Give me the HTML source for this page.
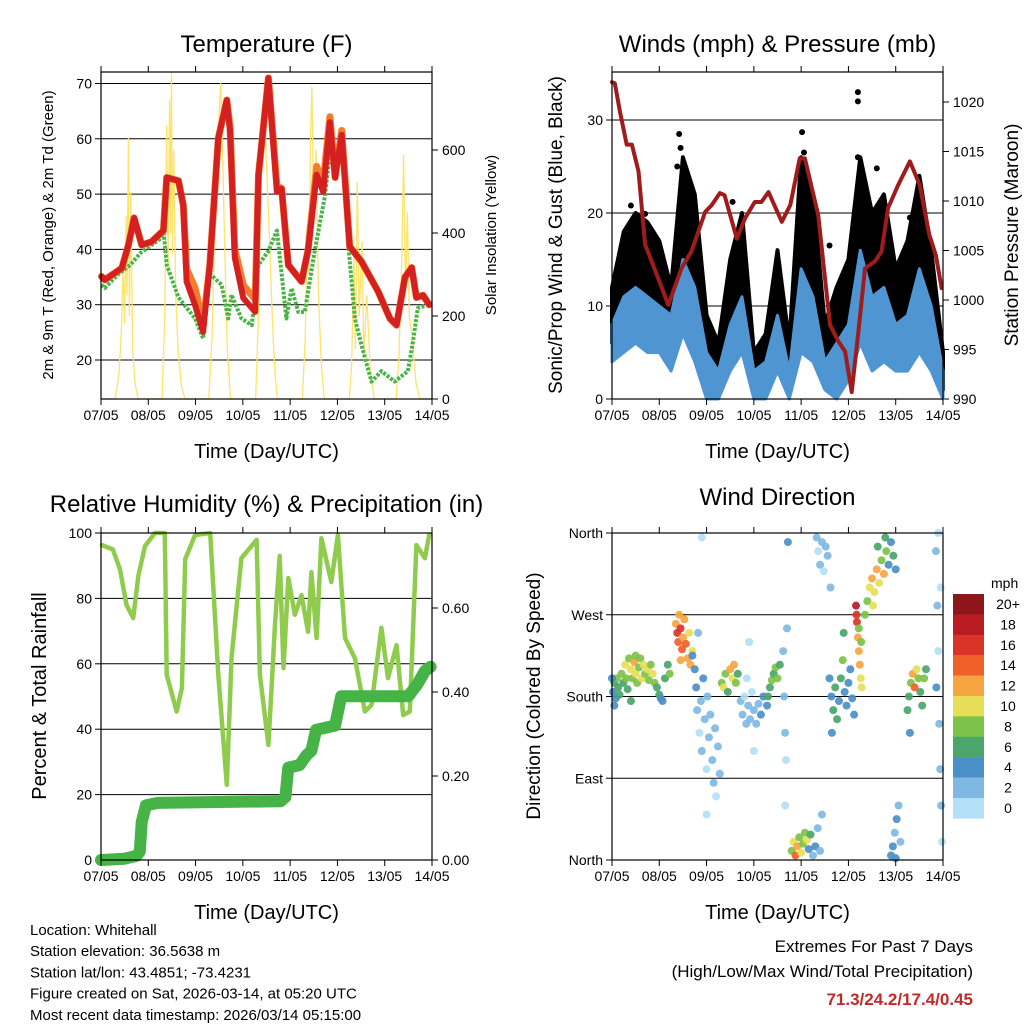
<!DOCTYPE html>
<html><head><meta charset="utf-8"><style>
html,body{margin:0;padding:0;background:#fff;}
svg{display:block;font-family:"Liberation Sans",Arial,sans-serif;}
</style></head><body>
<svg id="chart" xmlns="http://www.w3.org/2000/svg" width="1024" height="1024" viewBox="0 0 1024 1024">
<rect x="0" y="0" width="1024" height="1024" fill="#fff"/>
</svg>
<script>
// ---------- DATA ----------
const dayLabels = ["07/05","08/05","09/05","10/05","11/05","12/05","13/05","14/05"];
const tempTicks = [20,30,40,50,60,70];
const solarTicks = [0,200,400,600];
const windTicks = [0,10,20,30];
const presTicks = [990,995,1000,1005,1010,1015,1020];
const rhTicks = [0,20,40,60,80,100];
const rainTicks = ["0.00","0.20","0.40","0.60"];
const dirTickLabels = ["North","East","South","West","North"];
const speedBins = ["0","2","4","6","8","10","12","14","16","18","20+"];

const tDays = [0.01,0.08,0.44,0.58,0.70,0.86,1.07,1.32,1.39,1.64,1.74,1.81,1.99,2.16,2.30,2.48,2.66,2.73,2.83,3.01,3.26,3.33,3.54,3.72,3.82,3.96,4.24,4.38,4.56,4.70,4.84,4.95,5.09,5.26,5.51,5.86,6.11,6.25,6.43,6.57,6.67,6.81,6.94];
const tRed = [35.1,34.5,36.6,40.8,45.7,40.8,41.4,43.4,53,52.4,48,34.2,29.9,25.1,37.2,60.1,67,61.3,38.5,31.2,28.7,53.5,71,50.4,51,37.2,34.2,39.9,53.5,50.4,63,53,60.7,40.5,37.8,32.4,27.5,26.3,35,36.7,31.3,31.7,30];
const tOrange = [35.1,34.5,36.6,40.8,45.7,40.8,41.4,43.4,53,52.4,48,36.5,33,26.5,37.2,60.1,67,62,40,33.5,31,53.5,71,51.5,51,37.2,34.2,39.9,55,52,64,53,61.5,40.5,37.8,32.4,27.5,26.3,35,36.7,31.3,31.7,30];
const tdDays = [0.01,0.08,0.35,0.62,0.84,1.27,1.32,1.39,1.64,1.99,2.16,2.30,2.55,2.69,2.76,2.97,3.19,3.33,3.54,3.72,3.82,3.92,4.03,4.17,4.31,4.52,4.73,4.84,4.98,5.09,5.23,5.37,5.51,5.72,5.93,6.21,6.49,6.60,6.70,6.94];
const tdVals = [33.6,33,35.4,37.2,39.4,42,43.4,37.2,31.3,27.5,23.9,35.6,33.6,27.5,31.8,27.5,26.3,37.2,39.7,43.4,35.6,27.5,33,28.7,28.7,39.7,49.4,57.5,53.5,58.7,40.8,27.5,22.7,16.1,18,16.1,18,23.5,29.4,30];
const solarDays = [0,0.30,0.38,0.43,0.47,0.50,0.53,0.55,0.58,0.60,0.63,0.67,0.72,0.78,1.29,1.35,1.39,1.42,1.45,1.47,1.49,1.51,1.54,1.58,1.63,1.70,1.78,2.28,2.35,2.40,2.45,2.50,2.53,2.57,2.62,2.67,2.74,3.27,3.33,3.38,3.42,3.45,3.50,3.56,3.62,3.68,3.73,4.26,4.32,4.36,4.40,4.43,4.46,4.50,4.55,4.60,4.66,4.72,5.25,5.30,5.35,5.38,5.42,5.46,5.52,5.56,5.62,5.70,5.78,6.24,6.30,6.36,6.40,6.44,6.48,6.52,6.58,6.66,6.74,7];
const solarVals = [0,0,60,160,320,180,440,250,630,200,500,120,40,0,0,200,660,300,720,400,788,350,600,250,120,30,0,0,150,400,560,690,761,600,350,120,0,0,200,500,680,740,560,400,200,60,0,0,150,420,300,620,752,450,600,250,80,0,0,80,350,120,523,200,380,100,250,60,0,0,100,330,588,250,450,200,150,40,0,0];

const windDays = [0,0.25,0.5,0.75,1,1.25,1.5,1.75,2,2.25,2.5,2.75,3,3.25,3.5,3.75,4,4.25,4.5,4.75,5,5.25,5.5,5.75,6,6.25,6.5,6.75,7];
const windLo = [4,5,6,5,5,3,7,4,0,0,3,5,0,0,3,0,5,4,1,0,2,6,3,4,3,3,5,3,0];
const windHi = [8,11,12,11,10,9,15,12,5,3,8,11,3,4,9,3,14,11,4,6,8,16,11,12,8,9,14,10,3];
const gustLo = [6,10,10,10,9,6,12,10,3,2,6,10,1,2,6,1,12,10,3,2,5,14,9,10,6,7,12,6,1];
const gustHi = [12,18,20,19,17,12,26,22,9,6,15,20,5,7,16,6,26,22,8,12,15,26,20,22,14,17,24,16,5];
const gustOutDays = [1.42,1.45,4.02,4.06,5.2,5.2,5.2,5.6,2.55,0.4,0.7,6.3,4.6,1.38,0.3];
const gustOutVals = [28.5,27,28.7,26.5,33,32,26,24.8,21.2,20.8,19.9,19.5,16.5,25,16];
const presDays = [0.0,0.06,0.17,0.31,0.42,0.56,0.70,0.84,1.19,1.47,1.68,1.97,2.11,2.28,2.38,2.64,2.82,3.02,3.16,3.31,3.59,3.77,3.97,4.08,4.36,4.61,4.79,4.93,5.07,5.21,5.35,5.56,5.70,5.84,6.05,6.30,6.51,6.71,6.85,6.97];
const presVals = [1022,1021.9,1019,1015.7,1015.7,1013,1005.6,1003.9,999.5,1003.2,1004.9,1008.9,1009.6,1010.8,1010.6,1006.2,1008.3,1009.9,1009.9,1010.9,1007.9,1009.6,1014.3,1014.3,1008.6,997.5,995.8,994.8,990.7,996.8,1003.2,1003.9,1004.9,1009.3,1011.6,1014,1011.6,1006.6,1004.5,1001.2];

const rhDays = [0.02,0.25,0.40,0.54,0.68,0.79,0.93,1.14,1.35,1.39,1.60,1.71,1.78,1.99,2.31,2.48,2.66,2.76,2.97,3.29,3.36,3.54,3.68,3.78,3.86,3.96,4.10,4.24,4.38,4.45,4.56,4.66,4.87,5.01,5.16,5.37,5.58,5.72,5.93,6.07,6.25,6.39,6.53,6.67,6.85,6.94];
const rhVals = [96.3,95,89,78,74,87,96,100,100,56.6,45.4,52.6,92,99.4,100,56.6,23,61.7,92.3,97.9,56.6,35.2,72,93,58.7,86.2,75,81,69.8,88,67.9,98.4,85,99.4,67.9,61.7,45.4,47.4,71,55.6,65.7,44.3,45.4,96.3,92.3,99.4];
const rainDays = [0,0.5,0.75,0.82,0.86,0.95,1.2,3.8,3.9,3.96,4.2,4.35,4.45,4.55,4.95,5.08,5.2,6.5,6.7,6.85,6.97];
const rainVals = [0,0.003,0.01,0.02,0.09,0.13,0.136,0.14,0.15,0.22,0.226,0.25,0.26,0.31,0.32,0.39,0.39,0.39,0.42,0.45,0.46];

const dirDay = [0.02,0.05,0.08,0.1,0.13,0.16,0.2,0.24,0.28,0.3,0.33,0.36,0.4,0.43,0.47,0.5,0.53,0.57,0.6,0.63,0.67,0.7,0.75,0.78,0.82,0.86,0.9,0.95,1.0,1.03,1.07,1.12,1.18,1.22,0.05,0.0,0.4,0.5,
1.35,1.38,1.4,1.42,1.45,1.48,1.5,1.53,1.56,1.6,1.63,1.66,1.7,1.45,
1.75,1.78,1.8,1.82,1.85,1.88,1.9,1.93,1.96,2.0,2.02,2.05,2.08,2.12,2.15,2.18,2.2,2.24,2.28,1.9,2.0,1.7,
2.32,2.36,2.4,2.45,2.5,2.55,2.58,2.62,2.66,
2.72,2.76,2.8,2.84,2.88,2.92,2.96,3.0,3.05,3.1,3.15,3.2,2.85,2.9,3.0,
3.3,3.34,3.38,3.42,3.46,3.5,3.55,3.28,
3.62,3.64,3.66,3.68,3.7,3.72,3.66,
3.8,3.84,3.88,3.92,3.96,4.0,4.04,4.08,4.12,4.16,4.2,4.25,4.3,4.35,4.4,4.44,
4.33,4.36,4.4,4.44,4.48,4.52,4.56,4.62,
4.6,4.64,4.68,4.72,4.76,4.8,4.84,4.88,4.92,4.96,5.0,5.04,5.08,5.12,4.65,4.9,
5.16,5.17,5.18,5.2,5.22,5.24,5.26,5.28,5.22,5.27,
5.35,5.4,5.45,5.5,5.55,5.6,5.65,5.7,5.75,5.8,5.85,5.9,5.95,6.0,5.62,5.78,5.52,
5.9,5.94,5.98,6.02,6.06,6.1,6.0,
6.25,6.28,6.32,6.36,6.4,6.44,6.48,6.52,6.56,6.6,6.64,6.3,
6.85,6.88,6.9,6.92,6.94,6.96,6.98,6.9,6.86,6.95];
const dirDeg = [185,195,178,200,190,182,205,195,215,200,188,222,210,200,218,205,195,212,222,200,215,205,210,198,215,205,195,190,182,178,175,200,215,205,170,200,175,225,
260,250,240,270,255,232,245,265,238,222,250,215,230,220,
210,190,165,250,140,175,120,200,155,100,180,135,160,110,85,145,70,125,95,355,50,225,
195,190,205,185,210,200,215,195,205,
175,160,180,150,170,155,185,165,150,172,160,180,200,240,120,
180,190,198,205,212,200,215,170,
230,180,140,110,255,350,60,
10,20,5,15,25,8,18,30,22,12,28,5,15,35,10,50,
355,340,325,350,318,345,335,300,
200,180,165,190,155,175,200,220,185,170,195,210,178,160,140,250,
280,270,262,245,230,215,200,190,255,240,
270,285,300,310,295,320,305,330,315,340,325,350,335,320,345,355,280,
5,15,30,45,60,20,2,
165,180,195,205,190,210,200,185,170,200,210,140,
340,280,230,150,100,60,20,360,190,300];
const dirSpd = [4,6,4,8,6,6,8,7,10,8,6,9,11,9,12,10,8,9,8,10,11,9,10,8,9,10,8,6,6,4,4,7,7,8,4,4,6,8,
12,16,15,13,16,14,12,12,14,13,10,12,10,13,
4,4,3,2,1,3,2,4,2,1,3,2,3,2,2,3,1,2,2,1,0,4,
8,10,8,6,12,10,12,8,6,
2,2,1,2,2,2,1,2,2,2,4,4,1,1,1,
6,7,8,7,8,9,7,4,
2,3,2,1,2,4,1,
8,10,14,12,8,10,8,8,10,4,6,2,4,2,2,2,
2,1,2,2,1,2,2,2,
4,4,6,6,6,4,6,8,4,4,4,4,4,4,4,6,
18,17,16,12,12,12,10,10,8,8,
8,8,10,12,10,12,10,8,12,8,4,4,6,4,6,6,10,
4,4,2,4,2,2,4,
6,6,8,12,14,10,8,6,6,8,6,4,
2,2,1,2,2,2,1,1,4,0];
const speedColors = ["#b3e0f7","#7fb9e3","#4a8fc7","#4aa66b","#7dc24a","#e6de57","#f7a541","#ef6129","#d93427","#b81b22","#8e1519"];

// ---------- HELPERS ----------
const NS = "http://www.w3.org/2000/svg";
const svg = document.getElementById("chart");
function mk(tag, attrs, parent) {
  const e = document.createElementNS(NS, tag);
  for (const k in attrs) e.setAttribute(k, attrs[k]);
  (parent || svg).appendChild(e);
  return e;
}
function txt(str, x, y, size, anchor, parent, extra) {
  const t = mk("text", Object.assign({x: x, y: y, "font-size": size, "text-anchor": anchor || "middle", fill: "#000"}, extra || {}), parent);
  t.textContent = str;
  return t;
}
function pathFrom(xs, ys) {
  let d = "";
  for (let i = 0; i < xs.length; i++) d += (i ? "L" : "M") + xs[i].toFixed(1) + "," + ys[i].toFixed(1);
  return d;
}

function panel(name, x0, y0, x1, y1) {
  const g = mk("g", {});
  
  
  return {g: g, x0: x0, y0: y0, x1: x1, y1: y1, xs: d => x0 + d * (x1 - x0) / 7};
}
function frame(P, labelY, titleText, titleY) {
  const b = mk("rect", {x: P.x0, y: P.y0, width: P.x1 - P.x0, height: P.y1 - P.y0, fill: "none", stroke: "#000", "stroke-width": 1.2}, P.g);
  
  
  for (let i = 0; i < dayLabels.length; i++) {
    const x = P.xs(i);
    const t1 = mk("line", {x1: x, y1: P.y1, x2: x, y2: P.y1 + 6, stroke: "#000"}, P.g);
    
    
    const t2 = mk("line", {x1: x, y1: P.y0, x2: x, y2: P.y0 - 6, stroke: "#000"}, P.g);
    
    
    const l = txt(dayLabels[i], x, P.y1 + 21, 14, "middle", P.g);
    
    
  }
  const xt = txt("Time (Day/UTC)", (P.x0 + P.x1) / 2, labelY, 20, "middle", P.g);
  
  
  const tt = txt(titleText, (P.x0 + P.x1) / 2, titleY, 24, "middle", P.g);
  
  
}
function yAxis(P, vals, labels, ys, side, grid) {
  for (let i = 0; i < vals.length; i++) {
    const y = ys(vals[i]);
    const x = side === "left" ? P.x0 : P.x1;
    const dx = side === "left" ? -6 : 6;
    const tk = mk("line", {x1: x, y1: y, x2: x + dx, y2: y, stroke: "#000"}, P.g);
    
    
    if (grid) {
      const gl = mk("line", {x1: P.x0, y1: y, x2: P.x1, y2: y, stroke: "#000", "stroke-width": 1}, P.g);
      
      
    }
    const lb = txt(labels[i], side === "left" ? P.x0 - 9 : P.x1 + 10, y + 5, 14, side === "left" ? "end" : "start", P.g);
    
    
  }
}
function vTitle(str, x, y, size, parent) {
  const t = txt(str, x, y, size, "middle", parent, {transform: "rotate(-90 " + x + " " + y + ")"});
  return t;
}

// ---------- PANEL 1: TEMPERATURE ----------
const P1 = panel("temperature-panel", 101, 72, 432, 399);
const tY = T => 360 - (T - 20) * 5.53;
const sY = S => 399 - S * 0.415;
yAxis(P1, tempTicks, tempTicks.map(String), tY, "left", true);
yAxis(P1, solarTicks, solarTicks.map(String), sY, "right", false);
const solarLine = mk("path", {d: pathFrom(solarDays.map(P1.xs), solarVals.map(sY)), fill: "none", stroke: "#fde36a", "stroke-width": 1.3}, P1.g);


const tdLine = mk("path", {d: pathFrom(tdDays.map(P1.xs), tdVals.map(tY)), fill: "none", stroke: "#4bb446", "stroke-width": 4, "stroke-dasharray": "3 1.5", "stroke-linejoin": "round"}, P1.g);


const orLine = mk("path", {d: pathFrom(tDays.map(P1.xs), tOrange.map(tY)), fill: "none", stroke: "#f47c2c", "stroke-width": 7, "stroke-linejoin": "round", "stroke-linecap": "round"}, P1.g);


const redLine = mk("path", {d: pathFrom(tDays.map(P1.xs), tRed.map(tY)), fill: "none", stroke: "#d42020", "stroke-width": 6, "stroke-linejoin": "round", "stroke-linecap": "round"}, P1.g);


frame(P1, 458, "Temperature (F)", 52);
const p1l = vTitle("2m & 9m T (Red, Orange) & 2m Td (Green)", 53, 235, 15, P1.g);


const p1r = vTitle("Solar Insolation (Yellow)", 496, 235, 15, P1.g);



// ---------- PANEL 2: WINDS ----------
const P2 = panel("winds-panel", 612, 72, 943, 399);
const wY = w => 399 - w * 9.3;
const pY = p => 399 - (p - 990) * 9.9;
yAxis(P2, windTicks, windTicks.map(String), wY, "left", true);
yAxis(P2, presTicks, presTicks.map(String), pY, "right", false);
const gx = windDays.map(P2.xs);
const gustBand = mk("path", {d: pathFrom(gx.concat(gx.slice().reverse()), gustHi.map(wY).concat(gustLo.map(wY).reverse())) + "Z", fill: "#000", stroke: "#000", "stroke-width": 4, "stroke-linejoin": "round"}, P2.g);


for (let i = 0; i < gustOutDays.length; i++) {
  const c = mk("circle", {cx: P2.xs(gustOutDays[i]), cy: wY(gustOutVals[i]), r: 3, fill: "#000"}, P2.g);
  
  
}
const windBand = mk("path", {d: pathFrom(gx.concat(gx.slice().reverse()), windHi.map(wY).concat(windLo.map(wY).reverse())) + "Z", fill: "#4f95d2", stroke: "#4f95d2", "stroke-width": 3, "stroke-linejoin": "round"}, P2.g);


const presLine = mk("path", {d: pathFrom(presDays.map(P2.xs), presVals.map(pY)), fill: "none", stroke: "#a01c1c", "stroke-width": 4, "stroke-linejoin": "round", "stroke-linecap": "round"}, P2.g);


frame(P2, 458, "Winds (mph) & Pressure (mb)", 52);
const p2l = vTitle("Sonic/Prop Wind & Gust (Blue, Black)", 562, 235, 19, P2.g);


const p2r = vTitle("Station Pressure (Maroon)", 1018, 235, 19, P2.g);



// ---------- PANEL 3: RH ----------
const P3 = panel("humidity-panel", 101, 533, 432, 860);
const hY = h => 860 - h * 3.27;
const rY = r => 860 - r * 420;
yAxis(P3, rhTicks, rhTicks.map(String), hY, "left", true);
yAxis(P3, rainTicks.map(Number), rainTicks, rY, "right", false);
const rhLine = mk("path", {d: pathFrom(rhDays.map(P3.xs), rhVals.map(hY)), fill: "none", stroke: "#8fcb4c", "stroke-width": 4.5, "stroke-linejoin": "round", "stroke-linecap": "round"}, P3.g);


const rainLine = mk("path", {d: pathFrom(rainDays.map(P3.xs), rainVals.map(rY)), fill: "none", stroke: "#45b346", "stroke-width": 12, "stroke-linejoin": "round", "stroke-linecap": "round"}, P3.g);


frame(P3, 919, "Relative Humidity (%) & Precipitation (in)", 512);
const p3l = vTitle("Percent & Total Rainfall", 46, 696, 20, P3.g);



// ---------- PANEL 4: WIND DIRECTION ----------
const P4 = panel("wind-direction-panel", 612, 533, 943, 860);
const dY = deg => 860 - deg * 327 / 360;
yAxis(P4, [0, 90, 180, 270, 360], dirTickLabels, dY, "left", true);
for (let i = 0; i < dirDay.length; i++) {
  const idx = Math.min(10, Math.floor(dirSpd[i] / 2));
  const c = mk("circle", {cx: P4.xs(dirDay[i]), cy: dY(dirDeg[i]), r: 4, fill: speedColors[idx], "fill-opacity": 0.92}, P4.g);
  
  
}
frame(P4, 919, "Wind Direction", 505);
const p4l = vTitle("Direction (Colored By Speed)", 540, 696, 19, P4.g);


// colorbar
const cb = mk("g", {});


const cbUnit = txt("mph", 991, 588, 14, "start", cb);


for (let i = 0; i < speedBins.length; i++) {
  const k = speedBins.length - 1 - i;
  const y = 594 + i * 20.4;
  const r = mk("rect", {x: 953, y: y, width: 31, height: 20.6, fill: speedColors[k]}, cb);
  
  
  const t = txt(speedBins[k], 1008, y + 15, 14, "middle", cb);
  
  
}

// ---------- FOOTER ----------
const footLeft = ["Location: Whitehall", "Station elevation: 36.5638 m", "Station lat/lon: 43.4851; -73.4231", "Figure created on Sat, 2026-03-14, at 05:20 UTC", "Most recent data timestamp: 2026/03/14 05:15:00"];
for (let i = 0; i < footLeft.length; i++) {
  const t = txt(footLeft[i], 30, 935 + i * 21.2, 15, "start");
  
  
}
const e1 = txt("Extremes For Past 7 Days", 973, 952, 17, "end");


const e2 = txt("(High/Low/Max Wind/Total Precipitation)", 973, 977, 17, "end");


const e3 = txt("71.3/24.2/17.4/0.45", 973, 1005, 17, "end", null, {fill: "#c62828", "font-weight": "bold"});


</script>
</body></html>
